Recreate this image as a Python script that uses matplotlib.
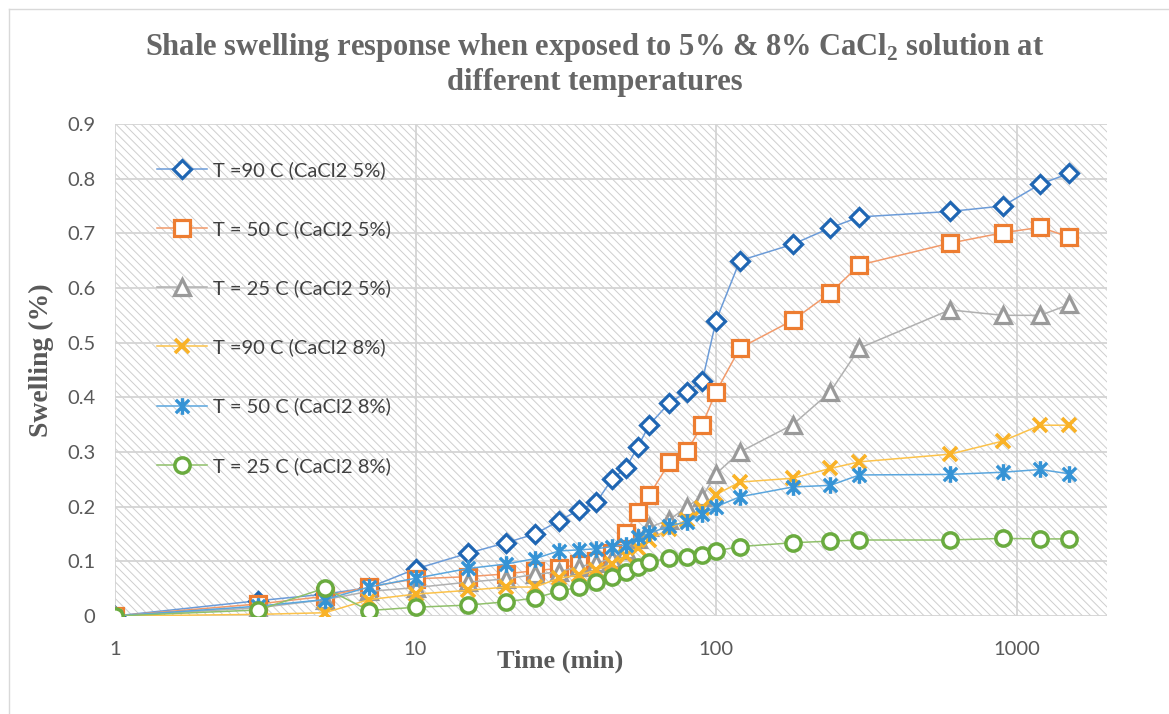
import numpy as np
import matplotlib
matplotlib.use("Agg")
import matplotlib.pyplot as plt
from matplotlib.path import Path
from matplotlib.patches import Rectangle
from matplotlib.lines import Line2D
from matplotlib.ticker import FixedLocator, NullLocator

plt.rcParams['font.family'] = ['Lato', 'DejaVu Sans']
plt.rcParams['mathtext.fontset'] = 'custom'
plt.rcParams['mathtext.rm'] = 'Liberation Serif:bold'
plt.rcParams['mathtext.bf'] = 'Liberation Serif:bold'
plt.rcParams['hatch.linewidth'] = 0.7

# data
time_min = [1, 3, 5, 7, 10, 15, 20, 25, 30, 35, 40, 45, 50, 55, 60, 70, 80, 90,
            100, 120, 180, 240, 300, 600, 900, 1200, 1500]

sw_90c_5 = [0, 0.028, 0.04, 0.052, 0.086, 0.115, 0.134, 0.15, 0.174, 0.194, 0.208,
            0.25, 0.27, 0.31, 0.35, 0.39, 0.41, 0.43, 0.54, 0.65, 0.68, 0.71, 0.73,
            0.74, 0.75, 0.79, 0.81]
sw_50c_5 = [0, 0.022, 0.036, 0.053, 0.068, 0.072, 0.077, 0.083, 0.087, 0.095, 0.101,
            0.115, 0.152, 0.19, 0.221, 0.281, 0.301, 0.35, 0.41, 0.49, 0.541, 0.591,
            0.642, 0.682, 0.701, 0.711, 0.693]
sw_25c_5 = [0, 0.015, 0.03, 0.045, 0.052, 0.062, 0.068, 0.076, 0.081, 0.09, 0.097,
            0.105, 0.12, 0.14, 0.162, 0.176, 0.2, 0.218, 0.26, 0.3, 0.35, 0.41, 0.49,
            0.56, 0.55, 0.55, 0.57]
sw_90c_8 = [0, 0.003, 0.006, 0.03, 0.04, 0.047, 0.053, 0.053, 0.069, 0.075, 0.084,
            0.095, 0.11, 0.125, 0.139, 0.16, 0.176, 0.197, 0.222, 0.245, 0.252, 0.27,
            0.282, 0.296, 0.32, 0.349, 0.349]
sw_50c_8 = [0, 0.018, 0.03, 0.053, 0.069, 0.087, 0.095, 0.105, 0.119, 0.121, 0.123,
            0.127, 0.13, 0.145, 0.151, 0.165, 0.172, 0.186, 0.2, 0.218, 0.236, 0.239,
            0.258, 0.259, 0.263, 0.268, 0.26]
sw_25c_8 = [0, 0.011, 0.051, 0.01, 0.016, 0.02, 0.026, 0.033, 0.045, 0.053, 0.062,
            0.072, 0.081, 0.09, 0.099, 0.106, 0.108, 0.111, 0.119, 0.127, 0.134, 0.137,
            0.139, 0.139, 0.142, 0.141, 0.141]

labels = ['T =90 C (CaCl2 5%)', 'T = 50 C (CaCl2 5%)', 'T = 25 C (CaCl2 5%)',
          'T =90 C (CaCl2 8%)', 'T = 50 C (CaCl2 8%)', 'T = 25 C (CaCl2 8%)']

# excel style "star" marker: x with a vertical bar
star = Path([(0, -1), (0, 1), (-0.8, -0.8), (0.8, 0.8), (-0.8, 0.8), (0.8, -0.8)],
            [Path.MOVETO, Path.LINETO, Path.MOVETO, Path.LINETO, Path.MOVETO, Path.LINETO])

fig = plt.figure(figsize=(11.69, 7.14), dpi=100)
ax = fig.add_axes([115 / 1169, 98 / 714, 992 / 1169, 492 / 714])

# hatched plot area
ax.patch.set_facecolor('white')
bg = Rectangle((0, 0), 1, 1, transform=ax.transAxes, facecolor='white',
               edgecolor='#cecece', hatch='\\\\\\\\', linewidth=0, zorder=0)
ax.add_patch(bg)

ax.plot(time_min, sw_90c_5, color='#6b9bd8', lw=1.1, marker='D', ms=9.5, mew=2.3,
        mec='#1f66b3', mfc='white', label=labels[0], zorder=3)
ax.plot(time_min, sw_50c_5, color='#f29a6a', lw=1.1, marker='s', ms=11, mew=2.3,
        mec='#ed7d31', mfc='white', label=labels[1], zorder=3)
ax.plot(time_min, sw_25c_5, color='#b0b0b0', lw=1.1, marker='^', ms=11.5, mew=2.3,
        mec='#9a9a9a', mfc='white', label=labels[2], zorder=3)
ax.plot(time_min, sw_90c_8, color='#fcc24a', lw=1.1, marker='x', ms=10.5, mew=2.6,
        mec='#f9b227', label=labels[3], zorder=3)
ax.plot(time_min, sw_50c_8, color='#5aa6de', lw=1.1, marker=star, ms=12, mew=2.4,
        mec='#3593d5', label=labels[4], zorder=3)
ax.plot(time_min, sw_25c_8, color='#8fc06a', lw=1.1, marker='o', ms=11, mew=2.5,
        mec='#6aab3f', mfc='white', label=labels[5], zorder=3)

ax.set_xscale('log')
ax.set_xlim(1, 2000)
ax.set_ylim(0, 0.9)
ax.xaxis.set_major_locator(FixedLocator([1, 10, 100, 1000]))
ax.xaxis.set_minor_locator(NullLocator())
ax.set_xticklabels(['1', '10', '100', '1000'])
ax.set_yticks(np.arange(0, 0.91, 0.1))
ax.set_yticklabels(['0', '0.1', '0.2', '0.3', '0.4', '0.5', '0.6', '0.7', '0.8', '0.9'])
ax.tick_params(axis='both', length=0, labelsize=14.5, colors='#595959')
ax.tick_params(axis='x', pad=18)
ax.tick_params(axis='y', pad=14)

ax.grid(True, color='#d4d4d4', lw=1.3, zorder=1)
ax.set_axisbelow(True)
for s in ax.spines.values():
    s.set_visible(False)

ax.set_xlabel('Time (min)', family='Liberation Serif', fontweight='bold',
              fontsize=19, color='#595959')
ax.xaxis.set_label_coords(0.449, -0.068)
ax.set_ylabel('Swelling (%)', family='Liberation Serif', fontweight='bold',
              fontsize=20, color='#595959')
ax.yaxis.set_label_coords(-0.061, 0.52)

leg = ax.legend(loc='upper left', bbox_to_anchor=(0.042, 0.925), frameon=False,
                fontsize=14.5, labelspacing=2.05, handlelength=2.5, handletextpad=0.3,
                borderpad=0, borderaxespad=0)
for t in leg.get_texts():
    t.set_color('#404040')

fig.text(0.509, 0.934, r'Shale swelling response when exposed to 5% & 8% CaCl$_2$ solution at',
         ha='center', va='center', family='Liberation Serif', fontweight='bold',
         fontsize=22, color='#666666')
fig.text(0.509, 0.885, 'different temperatures', ha='center', va='center',
         family='Liberation Serif', fontweight='bold', fontsize=22, color='#666666')

# light chart border at top and left
fig.add_artist(Line2D([9 / 1169, 1], [1 - 9 / 714, 1 - 9 / 714], color='#d9d9d9', lw=1))
fig.add_artist(Line2D([9 / 1169, 9 / 1169], [0, 1 - 9 / 714], color='#d9d9d9', lw=1))

fig.savefig('out.png', dpi=100)
